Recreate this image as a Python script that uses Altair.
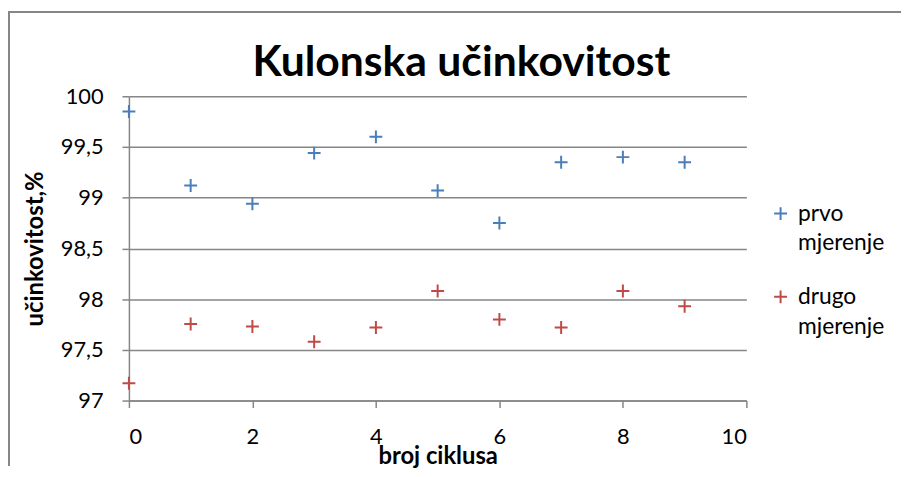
import altair as alt
import pandas as pd

cycles = [0, 1, 2, 3, 4, 5, 6, 7, 8, 9]
prvo = [99.85, 99.12, 98.94, 99.44, 99.60, 99.07, 98.75, 99.35, 99.40, 99.35]
drugo = [97.17, 97.755, 97.73, 97.58, 97.72, 98.08, 97.80, 97.72, 98.08, 97.93]
series_names = ["prvo mjerenje", "drugo mjerenje"]
series_colors = ["#4A7EBB", "#BE4B48"]
y_ticks = [97, 97.5, 98, 98.5, 99, 99.5, 100]
x_ticks = [0, 2, 4, 6, 8, 10]
title_text = "Kulonska učinkovitost"

rows = []
for c, v in zip(cycles, prvo):
    rows.append({"ciklus": c, "vrijednost": v, "serija": series_names[0]})
for c, v in zip(cycles, drugo):
    rows.append({"ciklus": c, "vrijednost": v, "serija": series_names[1]})
df = pd.DataFrame(rows)

W, H = 623, 307
PL, PT, PR, PB = 122, 87, 156, 66
GRAY = "#868686"
FONT = "Lato"

plus = "M-1,0L1,0M0,-1L0,1"
plus_legend = "M-1,-1.1L1,-1.1M0,-2.1L0,-0.1"

points = alt.Chart(df).mark_point(
    shape=plus, filled=False, size=169, strokeWidth=2, opacity=1
).encode(
    x=alt.X("ciklus:Q",
            scale=alt.Scale(domain=[0, 10], nice=False, zero=False),
            axis=alt.Axis(values=x_ticks, title="broj ciklusa", grid=False,
                          labelFontSize=22, labelPadding=19, titleFontSize=24,
                          titlePadding=-2)),
    y=alt.Y("vrijednost:Q",
            scale=alt.Scale(domain=[97, 100], nice=False, zero=False),
            axis=alt.Axis(values=y_ticks, title="učinkovitost,%", grid=True,
                          labelExpr="replace(toString(datum.value), '.', ',')",
                          labelFontSize=22, labelPadding=19, titleFontSize=24,
                          titlePadding=13)),
    color=alt.Color("serija:N",
                    scale=alt.Scale(domain=series_names, range=series_colors),
                    legend=alt.Legend(title=None, orient="none", legendX=646,
                                      legendY=114, symbolType=plus_legend,
                                      symbolSize=169, symbolStrokeWidth=2,
                                      symbolFillColor="transparent",
                                      labelFont=FONT, labelFontSize=23,
                                      labelColor="black", labelBaseline="alphabetic",
                                      labelExpr="split(datum.label, ' ')",
                                      labelLimit=300, labelOffset=6,
                                      rowPadding=30, padding=0)),
)

frame_src = pd.DataFrame({"k": [0]})
frame_top = alt.Chart(frame_src).mark_rule(color=GRAY, strokeWidth=2).encode(
    x=alt.value(-121), x2=alt.value(W + PR), y=alt.value(-85), y2=alt.value(-85)
)
frame_left = alt.Chart(frame_src).mark_rule(color=GRAY, strokeWidth=2).encode(
    x=alt.value(-121), x2=alt.value(-121), y=alt.value(-86), y2=alt.value(H + PB)
)
title = alt.Chart(frame_src).mark_text(
    text=title_text, font=FONT, fontSize=43, fontWeight="bold", color="black",
    align="center", baseline="alphabetic"
).encode(x=alt.value(W / 2 + 24), y=alt.value(-20))

chart = alt.layer(frame_top, frame_left, title, points).properties(
    width=W, height=H,
    autosize=alt.AutoSizeParams(type="none"),
    padding={"left": PL, "top": PT, "right": PR, "bottom": PB},
).configure(
    view={"strokeWidth": 0},
    axis={
        "labelFont": FONT, "titleFont": FONT, "labelColor": "black",
        "titleColor": "black", "titleFontWeight": "bold",
        "domainColor": GRAY, "domainWidth": 1.5, "tickColor": GRAY,
        "tickWidth": 1.5, "tickSize": 7, "gridColor": GRAY, "gridWidth": 1.5,
    },
    style={"guide-label": {"lineHeight": 30}},
)

chart.save("out.html", embed_options={"renderer": "svg", "actions": False})
